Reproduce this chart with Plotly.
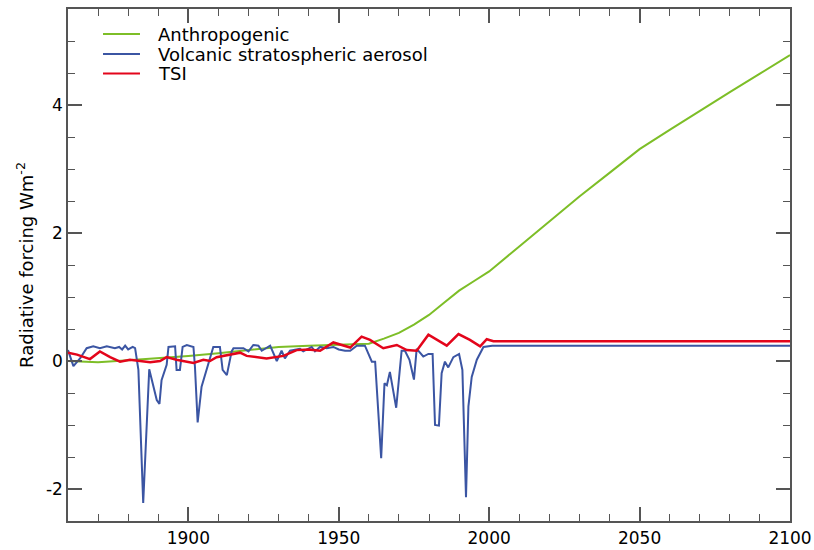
import plotly.graph_objects as go

# ---- data ----
anth_years = [1860, 1870, 1880, 1890, 1900, 1910, 1920, 1930, 1940, 1950, 1960, 1965,
              1970, 1975, 1980, 1985, 1990, 1995, 2000, 2010, 2020, 2030, 2040, 2050,
              2060, 2070, 2080, 2090, 2100]
anth_vals = [0.0, -0.02, 0.01, 0.04, 0.08, 0.12, 0.17, 0.22, 0.24, 0.25, 0.27, 0.35,
             0.44, 0.57, 0.72, 0.91, 1.10, 1.25, 1.40, 1.79, 2.18, 2.57, 2.94, 3.31,
             3.61, 3.91, 4.20, 4.49, 4.78]

volc_years = [1860, 1861.8, 1864, 1866.2, 1868.4, 1870.6, 1872.9, 1875.6, 1877, 1878,
              1879, 1880, 1881.5, 1882.3, 1883.4, 1885.0, 1887.0, 1889.5, 1890.4, 1891.1,
              1892.8, 1893.4, 1895.6, 1896.1, 1897.2, 1898.1, 1899.5, 1901.7, 1902.2, 1903.1,
              1904.4, 1906.1, 1908.3, 1910.5, 1911.4, 1912.8, 1914.4, 1915.0, 1918.3, 1920.0,
              1921.6, 1923.3, 1924.4, 1927.2, 1929.4, 1931.0, 1932.1, 1933.8, 1937.1, 1938.2,
              1941.0, 1942.1, 1943.8, 1946, 1948.2, 1950, 1952.1, 1953.8, 1956.0, 1958.7,
              1960.2, 1961.0, 1962.1, 1964.1, 1965.2, 1966.0, 1967.0, 1969.1, 1970.9, 1972.0,
              1973.5, 1975.0, 1975.9, 1978.1, 1979.8, 1981.2, 1982.0, 1983.3, 1984.2, 1985.3,
              1986.4, 1988.1, 1990.0, 1991.1, 1992.3, 1993.1, 1994.2, 1995.9, 1998.1, 2001,
              2100]
volc_vals = [0.17, -0.08, 0.04, 0.20, 0.23, 0.20, 0.23, 0.20, 0.22, 0.18,
             0.24, 0.18, 0.22, 0.20, -0.14, -2.22, -0.13, -0.61, -0.67, -0.30,
             -0.06, 0.22, 0.23, -0.14, -0.14, 0.22, 0.25, 0.22, -0.09, -0.96,
             -0.40, -0.14, 0.22, 0.22, -0.14, -0.22, 0.15, 0.20, 0.20, 0.15,
             0.25, 0.24, 0.16, 0.24, 0.00, 0.16, 0.04, 0.16, 0.19, 0.15,
             0.22, 0.15, 0.22, 0.20, 0.22, 0.18, 0.16, 0.16, 0.24, 0.24,
             0.07, -0.01, -0.01, -1.52, -0.35, -0.38, -0.17, -0.73, 0.16, 0.16,
             0.02, -0.29, 0.19, 0.07, 0.11, 0.11, -1.00, -1.01, -0.19, -0.01,
             -0.10, 0.06, 0.11, -0.14, -2.13, -0.71, -0.25, 0.02, 0.22, 0.24,
             0.24]

tsi_years = [1860, 1863, 1867.3, 1870.6, 1874, 1877.3, 1880.6, 1884, 1887.3, 1890.6,
             1892.8, 1896, 1899.5, 1901.7, 1905, 1907.2, 1909.4, 1913, 1917.2, 1919.4,
             1923.8, 1926, 1931.6, 1936, 1939.9, 1943.8, 1948.2, 1953.8, 1957.6, 1960.4,
             1964.8, 1969.3, 1972.6, 1975.9, 1979.8, 1982.6, 1985.9, 1989.8, 1993.6, 1997,
             1999.2, 2001.4, 2100]
tsi_vals = [0.13, 0.10, 0.03, 0.15, 0.06, -0.01, 0.02, 0.00, -0.02, 0.00,
            0.06, 0.02, -0.01, -0.03, 0.02, 0.00, 0.06, 0.09, 0.13, 0.08,
            0.05, 0.04, 0.08, 0.17, 0.18, 0.16, 0.29, 0.21, 0.38, 0.33,
            0.20, 0.25, 0.17, 0.16, 0.41, 0.33, 0.24, 0.42, 0.33, 0.23,
            0.34, 0.31, 0.31]

series_names = ["Anthropogenic", "Volcanic stratospheric aerosol", "TSI"]
series_colors = ["#7DBE27", "#3B55A3", "#E3051B"]
series_widths = [2, 2, 2.5]

x_tickvals = [1900, 1950, 2000, 2050, 2100]
x_ticktext = ["1900", "1950", "2000", "2050", "2100"]
y_tickvals = [-2, 0, 2, 4]
y_ticktext = ["-2", "0", "2", "4"]

FONT = "DejaVu Sans"
AX = "#555555"

fig = go.Figure()
data = [(anth_years, anth_vals), (volc_years, volc_vals), (tsi_years, tsi_vals)]
for (xs, ys), name, col, w in zip(data, series_names, series_colors, series_widths):
    fig.add_trace(go.Scatter(x=xs, y=ys, mode="lines", name=name,
                             line=dict(color=col, width=w), showlegend=False))

# hand-built legend (compact rows like the reference)
leg_y = [0.951, 0.912, 0.874]
for name, col, ly in zip(series_names, series_colors, leg_y):
    fig.add_shape(type="line", xref="paper", yref="paper",
                  x0=0.0485, x1=0.0997, y0=ly, y1=ly,
                  line=dict(color=col, width=2))
    fig.add_annotation(xref="paper", yref="paper", x=0.122, y=ly, text=name,
                       showarrow=False, xanchor="left", yanchor="middle",
                       font=dict(family=FONT, size=18, color="black"))

axis_common = dict(showline=True, linecolor=AX, linewidth=1.5, mirror="ticks",
                   ticks="inside", ticklen=14, tickwidth=1.5, tickcolor=AX,
                   showgrid=False, zeroline=False,
                   tickfont=dict(family=FONT, size=17, color="black"))

fig.update_xaxes(range=[1860, 2100], tickvals=x_tickvals, ticktext=x_ticktext,
                 minor=dict(dtick=10, tick0=1860, ticklen=7, tickwidth=1.2,
                            tickcolor=AX, ticks="inside"),
                 ticklabelstandoff=1, **axis_common)
fig.update_yaxes(range=[-2.5, 5.5], tickvals=y_tickvals, ticktext=y_ticktext,
                 minor=dict(dtick=0.5, tick0=0, ticklen=7, tickwidth=1.2,
                            tickcolor=AX, ticks="inside"),
                 ticklabelstandoff=0,
                 title=dict(text="Radiative forcing Wm<sup>-2</sup>",
                            font=dict(family=FONT, size=18, color="black"),
                            standoff=8),
                 **axis_common)

fig.update_layout(width=814, height=550,
                  margin=dict(l=68, r=24, t=9, b=29, autoexpand=False),
                  paper_bgcolor="white", plot_bgcolor="white",
                  font=dict(family=FONT, color="black"))

fig.write_html("out.html")
